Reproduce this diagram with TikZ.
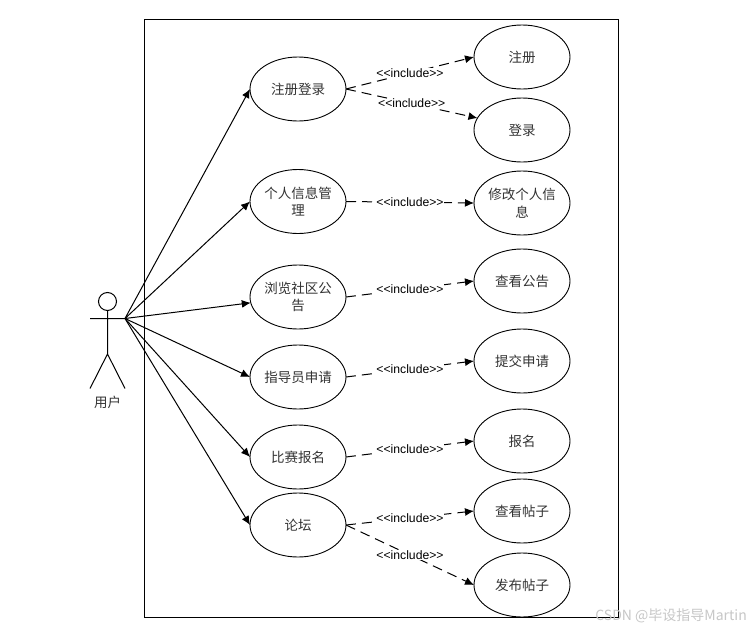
\documentclass[tikz,border=0pt]{standalone}
\usepackage{fontspec}
\setmainfont{Liberation Sans}
\newfontfamily\cjk{Noto Sans CJK SC}
\usetikzlibrary{arrows.meta,shapes.geometric}
\tikzset{
  usecase/.style={draw=black,line width=0.9pt,ellipse,minimum width=96pt,minimum height=64pt,inner sep=0pt,outer sep=0pt,align=center,font=\cjk\fontsize{13.5}{17.5}\selectfont,text=black!80},
  assoc/.style={draw=black,line width=1pt,-{Latex[length=9pt,width=8pt]}},
  incl/.style={draw=black,line width=1pt,dash pattern=on 10pt off 6pt,-{Latex[length=9pt,width=8pt]}},
  incllabel/.style={fill=white,inner sep=0.5pt,font=\fontsize{12.2}{14}\selectfont},
  stick/.style={draw=black,line width=1pt}
}
\begin{document}
\begin{tikzpicture}[x=1pt,y=-1pt]
\useasboundingbox (0,0) rectangle (756,629);
\fill[white] (0,0) rectangle (756,629);
\draw[line width=1pt] (144,19.5) rectangle (618,617);
% actor
\node[circle,draw=black,line width=1pt,minimum size=18pt,inner sep=0pt] (head) at (107.5,301.5) {};
\coordinate (neck) at (107.5,310.5);
\coordinate (hip) at (107.5,354);
\coordinate (armL) at (90,318.5);
\coordinate (hand) at (125,318.5);
\coordinate (footL) at (90,388.5);
\coordinate (footR) at (125,388.5);
\draw[stick] (neck) -- (hip) (armL) -- (hand) (footL) -- (hip) -- (footR);
\node[font=\cjk\fontsize{13.5}{15}\selectfont,text=black!80] (actorname) at (107.5,402) {用户};
% left use cases
\node[usecase] (a1) at (298,89) {注册登录};
\node[usecase] (a2) at (298,201.5) {个人信息管\\理};
\node[usecase] (a3) at (298,297) {浏览社区公\\告};
\node[usecase] (a4) at (298,377) {指导员申请};
\node[usecase] (a5) at (298,457) {比赛报名};
\node[usecase] (a6) at (298,525) {论坛};
% right use cases
\node[usecase] (b1) at (522,57) {注册};
\node[usecase] (b2) at (522,130) {登录};
\node[usecase] (b3) at (522,203) {修改个人信\\息};
\node[usecase] (b4) at (522,281) {查看公告};
\node[usecase] (b5) at (522,361) {提交申请};
\node[usecase] (b6) at (522,441) {报名};
\node[usecase] (b7) at (522,511) {查看帖子};
\node[usecase] (b8) at (522,585) {发布帖子};
% associations
\draw[assoc] (hand) -- (a1.west);
\draw[assoc] (hand) -- (a2.west);
\draw[assoc] (hand) -- (a3.187);
\draw[assoc] (hand) -- (a4.west);
\draw[assoc] (hand) -- (a5.west);
\draw[assoc] (hand) -- (a6.west);
% includes
\draw[incl] (a1.east) -- node[incllabel] {<{}<include>{}>} (b1.west);
\draw[incl] (a1.east) -- node[incllabel] {<{}<include>{}>} (b2.165);
\draw[incl] (a2.east) -- node[incllabel] {<{}<include>{}>} (b3.west);
\draw[incl] (a3.east) -- node[incllabel] {<{}<include>{}>} (b4.west);
\draw[incl] (a4.east) -- node[incllabel] {<{}<include>{}>} (b5.west);
\draw[incl] (a5.east) -- node[incllabel] {<{}<include>{}>} (b6.west);
\draw[incl] (a6.east) -- node[incllabel] {<{}<include>{}>} (b7.west);
\draw[incl] (a6.east) -- node[incllabel] {<{}<include>{}>} (b8.west);
% watermark
\node[anchor=east,inner sep=0pt,text=black!22,font=\cjk\fontsize{14}{16}\selectfont] (wm) at (747,616) {CSDN @毕设指导Martin};
\end{tikzpicture}
\end{document}
